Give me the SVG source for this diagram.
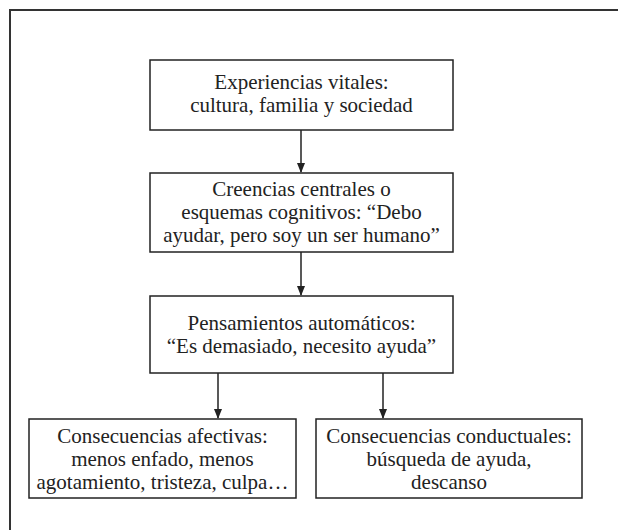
<svg xmlns="http://www.w3.org/2000/svg" width="618" height="530" viewBox="0 0 618 530">
<style>
.box{fill:#fff;stroke:#222;stroke-width:1.5}
.t{font-family:"Liberation Serif","Times New Roman",serif;font-size:21px;fill:#222;text-anchor:middle}
.c{stroke:#222;stroke-width:1.5;fill:none}
</style>
<defs>
<marker id="ah" markerWidth="10" markerHeight="14" refX="9" refY="5" orient="auto" markerUnits="userSpaceOnUse" viewBox="0 0 10 10">
<path d="M0,1 L10,5 L0,9 Z" fill="#222"/>
</marker>
</defs>
<rect width="618" height="530" fill="#fff"/>
<path d="M10,540 L10,10 L630,10" fill="none" stroke="#333" stroke-width="2"/>
<g id="connectors">
<line class="c" x1="301" y1="130" x2="301" y2="172" marker-end="url(#ah)"/>
<line class="c" x1="301" y1="252" x2="301" y2="295" marker-end="url(#ah)"/>
<line class="c" x1="218" y1="373" x2="218" y2="418" marker-end="url(#ah)"/>
<line class="c" x1="383" y1="373" x2="383" y2="418" marker-end="url(#ah)"/>
</g>
<g id="n1">
<rect class="box" x="150" y="60" width="303" height="70"/>
<text class="t" x="301.5" y="89">Experiencias vitales:</text>
<text class="t" x="301.5" y="112">cultura, familia y sociedad</text>
</g>
<g id="n2">
<rect class="box" x="150" y="173" width="303" height="79"/>
<text class="t" x="301.5" y="196">Creencias centrales o</text>
<text class="t" x="301.5" y="219">esquemas cognitivos: “Debo</text>
<text class="t" x="301.5" y="242">ayudar, pero soy un ser humano”</text>
</g>
<g id="n3">
<rect class="box" x="150" y="296" width="303" height="77"/>
<text class="t" x="301.5" y="330">Pensamientos automáticos:</text>
<text class="t" x="301.5" y="353">“Es demasiado, necesito ayuda”</text>
</g>
<g id="n4">
<rect class="box" x="29" y="419" width="267" height="79"/>
<text class="t" x="162.5" y="443">Consecuencias afectivas:</text>
<text class="t" x="162.5" y="466">menos enfado, menos</text>
<text class="t" x="162.5" y="489">agotamiento, tristeza, culpa…</text>
</g>
<g id="n5">
<rect class="box" x="316" y="419" width="266" height="79"/>
<text class="t" x="449" y="443">Consecuencias conductuales:</text>
<text class="t" x="449" y="466">búsqueda de ayuda,</text>
<text class="t" x="449" y="489">descanso</text>
</g>
</svg>
